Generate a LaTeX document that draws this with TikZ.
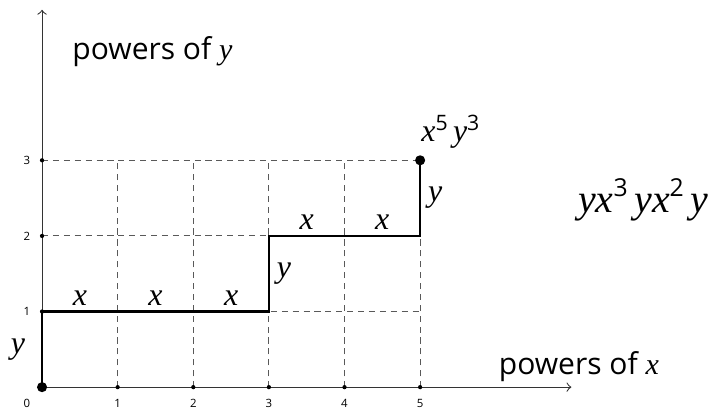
\documentclass[tikz,border=0pt]{standalone}
\usepackage{fontspec}
\setmainfont{Open Sans}
\newfontfamily\varfont{Liberation Serif}
\newcommand{\vx}{{\varfont\itshape x}}
\newcommand{\vy}{{\varfont\itshape y}}
\newcommand{\pw}[1]{\raisebox{4.2pt}{\fontsize{8}{8}\selectfont #1}}
\newcommand{\pwbig}[1]{\raisebox{6pt}{\fontsize{9.3}{9}\selectfont #1}}

\begin{document}
\begin{tikzpicture}[>=to,
        axis/.style={draw=black!80, line width=0.4pt},
        gridline/.style={draw=black!65, dash pattern=on 2.3pt off 1.8pt, line width=0.4pt},
        walk/.style={draw=black, line width=0.9pt},
        tick/.style={circle, fill=black, inner sep=0pt, minimum size=1.6pt},
        bigdot/.style={circle, fill=black, inner sep=0pt, minimum size=3.8pt},
        num/.style={font=\fontsize{4.3}{5}\selectfont, inner sep=0pt},
        lbl/.style={font=\fontsize{12}{14}\selectfont, inner sep=0pt},
        title/.style={font=\fontsize{11.3}{13}\selectfont, inner sep=0pt}]
    \useasboundingbox (-0.556,-0.304) rectangle (8.86,5.12);

    % --- Assi ---
    \coordinate (O) at (0,0);
    \coordinate (xend) at (7,0);
    \coordinate (yend) at (0,4.99);
    \draw[axis, ->] (O) -- (xend);
    \draw[axis, ->] (O) -- (yend);

    % --- Griglia tratteggiata ---
    \foreach \i in {1,...,5} {
        \coordinate (gb\i) at (\i,0);
        \coordinate (gt\i) at (\i,3);
        \draw[gridline] (gb\i) -- (gt\i);
    }
    \foreach \j in {1,2,3} {
        \coordinate (gl\j) at (0,\j);
        \coordinate (gr\j) at (5,\j);
        \draw[gridline] (gl\j) -- (gr\j);
    }

    % --- Tacche e numeri ---
    \foreach \i in {1,...,5} {
        \node[tick] (tx\i) at (\i,0) {};
        \node[num] (nx\i) at (\i,-0.21) {\i};
    }
    \foreach \j in {1,2,3} {
        \node[tick] (ty\j) at (0,\j) {};
        \node[num] (ny\j) at (-0.2,\j) {\j};
    }
    \node[num] (n0) at (-0.2,-0.21) {0};

    % --- Cammino ---
    \coordinate (p1) at (0,1);
    \coordinate (p2) at (3,1);
    \coordinate (p3) at (3,2);
    \coordinate (p4) at (5,2);
    \coordinate (p5) at (5,3);
    \draw[walk] (O) -- (p1) -- (p2) -- (p3) -- (p4) -- (p5);
    \node[bigdot] (start) at (O) {};
    \node[bigdot] (end) at (p5) {};

    % etichette dei passi
    \node[lbl] (sy1) at (-0.32,0.5) {\vy};
    \foreach \i in {0,1,2} \node[lbl] (sx\i) at (\i+0.5,1.18) {\vx};
    \node[lbl] (sy2) at (3.2,1.5) {\vy};
    \foreach \i in {3,4} \node[lbl] (sx\i) at (\i+0.5,2.18) {\vx};
    \node[lbl] (sy3) at (5.2,2.5) {\vy};

    \node[lbl] (mono) at (5.4,3.38) {\vx\pw{5}\,\vy\pw{3}};
    \node[lbl, font=\fontsize{15}{17}\selectfont] (word) at (7.95,2.48) {\vy\vx\pwbig{3}\,\vy\vx\pwbig{2}\,\vy};

    % --- Titoli degli assi ---
    \node[title] (powy) at (1.46,4.44) {powers of \vy};
    \node[title] (powx) at (7.1,0.27) {powers of \vx};
\end{tikzpicture}
\end{document}
